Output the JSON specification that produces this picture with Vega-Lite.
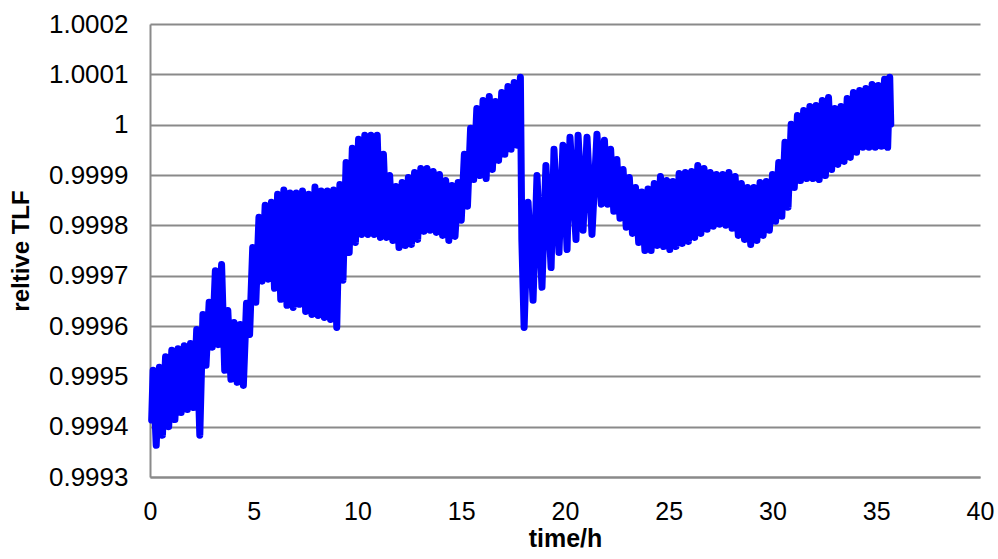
{
  "$schema": "https://vega.github.io/schema/vega-lite/v6.json",
  "width": 830,
  "height": 453,
  "autosize": {"type": "none"},
  "padding": {"left": 150, "top": 24, "right": 18, "bottom": 82},
  "background": "white",
  "config": {"view": {"stroke": null}, "font": "Liberation Sans"},
  "data": {"values": [
    {"t":0.08,"y":0.999413},{"t":0.15,"y":0.999512},{"t":0.30,"y":0.999363},{"t":0.45,"y":0.999518},{"t":0.60,"y":0.999383},
    {"t":0.75,"y":0.999539},{"t":0.90,"y":0.999400},{"t":1.05,"y":0.999552},{"t":1.20,"y":0.999414},{"t":1.35,"y":0.999555},
    {"t":1.50,"y":0.999428},{"t":1.65,"y":0.999561},{"t":1.80,"y":0.999434},{"t":1.95,"y":0.999565},{"t":2.10,"y":0.999438},
    {"t":2.25,"y":0.999593},{"t":2.40,"y":0.999383},{"t":2.55,"y":0.999623},{"t":2.70,"y":0.999522},{"t":2.85,"y":0.999647},
    {"t":3.00,"y":0.999558},{"t":3.15,"y":0.999710},{"t":3.30,"y":0.999563},{"t":3.45,"y":0.999722},{"t":3.60,"y":0.999512},
    {"t":3.75,"y":0.999631},{"t":3.90,"y":0.999494},{"t":4.05,"y":0.999607},{"t":4.20,"y":0.999488},{"t":4.35,"y":0.999603},
    {"t":4.50,"y":0.999482},{"t":4.65,"y":0.999645},{"t":4.80,"y":0.999583},{"t":4.95,"y":0.999756},{"t":5.10,"y":0.999647},
    {"t":5.25,"y":0.999816},{"t":5.40,"y":0.999689},{"t":5.55,"y":0.999840},{"t":5.70,"y":0.999693},{"t":5.85,"y":0.999846},
    {"t":6.00,"y":0.999675},{"t":6.15,"y":0.999862},{"t":6.30,"y":0.999653},{"t":6.45,"y":0.999870},{"t":6.60,"y":0.999641},
    {"t":6.75,"y":0.999864},{"t":6.90,"y":0.999637},{"t":7.05,"y":0.999864},{"t":7.20,"y":0.999643},{"t":7.35,"y":0.999868},
    {"t":7.50,"y":0.999629},{"t":7.65,"y":0.999862},{"t":7.80,"y":0.999623},{"t":7.95,"y":0.999876},{"t":8.10,"y":0.999621},
    {"t":8.25,"y":0.999868},{"t":8.40,"y":0.999617},{"t":8.55,"y":0.999868},{"t":8.70,"y":0.999613},{"t":8.85,"y":0.999870},
    {"t":9.00,"y":0.999597},{"t":9.15,"y":0.999881},{"t":9.30,"y":0.999691},{"t":9.45,"y":0.999925},{"t":9.60,"y":0.999746},
    {"t":9.75,"y":0.999953},{"t":9.90,"y":0.999766},{"t":10.05,"y":0.999971},{"t":10.20,"y":0.999782},{"t":10.35,"y":0.999979},
    {"t":10.50,"y":0.999782},{"t":10.65,"y":0.999979},{"t":10.80,"y":0.999782},{"t":10.95,"y":0.999979},{"t":11.10,"y":0.999776},
    {"t":11.25,"y":0.999941},{"t":11.40,"y":0.999776},{"t":11.55,"y":0.999899},{"t":11.70,"y":0.999770},{"t":11.85,"y":0.999877},
    {"t":12.00,"y":0.999756},{"t":12.15,"y":0.999885},{"t":12.30,"y":0.999760},{"t":12.45,"y":0.999895},{"t":12.60,"y":0.999762},
    {"t":12.75,"y":0.999905},{"t":12.90,"y":0.999772},{"t":13.05,"y":0.999913},{"t":13.20,"y":0.999788},{"t":13.35,"y":0.999913},
    {"t":13.50,"y":0.999790},{"t":13.65,"y":0.999907},{"t":13.80,"y":0.999786},{"t":13.95,"y":0.999901},{"t":14.10,"y":0.999780},
    {"t":14.25,"y":0.999889},{"t":14.40,"y":0.999770},{"t":14.55,"y":0.999879},{"t":14.70,"y":0.999778},{"t":14.85,"y":0.999885},
    {"t":15.00,"y":0.999810},{"t":15.15,"y":0.999941},{"t":15.30,"y":0.999838},{"t":15.45,"y":0.999993},{"t":15.60,"y":0.999891},
    {"t":15.75,"y":1.000032},{"t":15.90,"y":0.999899},{"t":16.05,"y":1.000048},{"t":16.20,"y":0.999893},{"t":16.35,"y":1.000056},
    {"t":16.50,"y":0.999911},{"t":16.65,"y":1.000046},{"t":16.80,"y":0.999929},{"t":16.95,"y":1.000064},{"t":17.10,"y":0.999941},
    {"t":17.25,"y":1.000076},{"t":17.40,"y":0.999951},{"t":17.55,"y":1.000084},{"t":17.70,"y":0.999959},{"t":17.85,"y":1.000094},
    {"t":17.92,"y":0.999771},{"t":18.03,"y":0.999597},{"t":18.22,"y":0.999846},{"t":18.46,"y":0.999651},{"t":18.65,"y":0.999899},
    {"t":18.89,"y":0.999677},{"t":19.08,"y":0.999919},{"t":19.33,"y":0.999716},{"t":19.47,"y":0.999951},{"t":19.71,"y":0.999746},
    {"t":19.90,"y":0.999959},{"t":20.10,"y":0.999752},{"t":20.24,"y":0.999975},{"t":20.53,"y":0.999772},{"t":20.63,"y":0.999979},
    {"t":20.87,"y":0.999790},{"t":21.06,"y":0.999975},{"t":21.30,"y":0.999782},{"t":21.54,"y":0.999981},{"t":21.75,"y":0.999842},
    {"t":21.90,"y":0.999969},{"t":22.05,"y":0.999842},{"t":22.20,"y":0.999951},{"t":22.35,"y":0.999828},{"t":22.50,"y":0.999931},
    {"t":22.65,"y":0.999814},{"t":22.80,"y":0.999911},{"t":22.95,"y":0.999796},{"t":23.10,"y":0.999895},{"t":23.25,"y":0.999784},
    {"t":23.40,"y":0.999875},{"t":23.55,"y":0.999766},{"t":23.70,"y":0.999866},{"t":23.85,"y":0.999750},{"t":24.00,"y":0.999872},
    {"t":24.15,"y":0.999750},{"t":24.30,"y":0.999883},{"t":24.45,"y":0.999760},{"t":24.60,"y":0.999897},{"t":24.75,"y":0.999758},
    {"t":24.90,"y":0.999889},{"t":25.05,"y":0.999752},{"t":25.20,"y":0.999887},{"t":25.35,"y":0.999758},{"t":25.50,"y":0.999903},
    {"t":25.65,"y":0.999764},{"t":25.80,"y":0.999905},{"t":25.95,"y":0.999768},{"t":26.10,"y":0.999907},{"t":26.25,"y":0.999776},
    {"t":26.40,"y":0.999919},{"t":26.55,"y":0.999784},{"t":26.70,"y":0.999913},{"t":26.85,"y":0.999792},{"t":27.00,"y":0.999905},
    {"t":27.15,"y":0.999798},{"t":27.30,"y":0.999901},{"t":27.45,"y":0.999802},{"t":27.60,"y":0.999901},{"t":27.75,"y":0.999800},
    {"t":27.90,"y":0.999905},{"t":28.05,"y":0.999794},{"t":28.20,"y":0.999897},{"t":28.35,"y":0.999780},{"t":28.50,"y":0.999883},
    {"t":28.65,"y":0.999772},{"t":28.80,"y":0.999875},{"t":28.95,"y":0.999762},{"t":29.10,"y":0.999875},{"t":29.25,"y":0.999770},
    {"t":29.40,"y":0.999885},{"t":29.55,"y":0.999780},{"t":29.70,"y":0.999887},{"t":29.85,"y":0.999790},{"t":30.00,"y":0.999901},
    {"t":30.15,"y":0.999808},{"t":30.30,"y":0.999925},{"t":30.45,"y":0.999818},{"t":30.60,"y":0.999965},{"t":30.75,"y":0.999836},
    {"t":30.90,"y":1.000001},{"t":31.05,"y":0.999875},{"t":31.20,"y":1.000018},{"t":31.35,"y":0.999889},{"t":31.50,"y":1.000028},
    {"t":31.65,"y":0.999893},{"t":31.80,"y":1.000036},{"t":31.95,"y":0.999893},{"t":32.10,"y":1.000038},{"t":32.25,"y":0.999891},
    {"t":32.40,"y":1.000048},{"t":32.55,"y":0.999899},{"t":32.70,"y":1.000054},{"t":32.85,"y":0.999911},{"t":33.00,"y":1.000032},
    {"t":33.15,"y":0.999921},{"t":33.30,"y":1.000036},{"t":33.45,"y":0.999927},{"t":33.60,"y":1.000052},{"t":33.75,"y":0.999935},
    {"t":33.90,"y":1.000064},{"t":34.05,"y":0.999945},{"t":34.20,"y":1.000068},{"t":34.35,"y":0.999955},{"t":34.50,"y":1.000072},
    {"t":34.65,"y":0.999955},{"t":34.80,"y":1.000080},{"t":34.95,"y":0.999955},{"t":35.10,"y":1.000078},{"t":35.25,"y":0.999957},
    {"t":35.40,"y":1.000090},{"t":35.55,"y":0.999955},{"t":35.65,"y":1.000094},{"t":35.70,"y":1.000001}
  ]},
  "mark": {"type": "line", "color": "#0000ff", "strokeWidth": 7, "strokeCap": "round", "strokeJoin": "round"},
  "encoding": {
    "x": {
      "field": "t", "type": "quantitative",
      "scale": {"domain": [0, 40], "nice": false},
      "axis": {
        "title": "time/h",
        "values": [0, 5, 10, 15, 20, 25, 30, 35, 40],
        "grid": false, "ticks": false,
        "domainColor": "#8a8a8a", "domainWidth": 2,
        "labelFont": "Liberation Sans", "labelFontSize": 25, "labelColor": "#000000", "labelPadding": 22,
        "labelFlush": false,
        "titleFont": "Liberation Sans", "titleFontSize": 25, "titleFontWeight": "bold", "titleColor": "#000000", "titlePadding": 2
      }
    },
    "y": {
      "field": "y", "type": "quantitative",
      "scale": {"domain": [0.9993, 1.0002], "nice": false, "zero": false},
      "axis": {
        "title": "reltive TLF",
        "values": [0.9993, 0.9994, 0.9995, 0.9996, 0.9997, 0.9998, 0.9999, 1.0, 1.0001, 1.0002],
        "format": ".4~f",
        "grid": true, "gridColor": "#8a8a8a", "gridWidth": 2,
        "ticks": false,
        "domainColor": "#8a8a8a", "domainWidth": 2,
        "labelFont": "Liberation Sans", "labelFontSize": 26, "labelColor": "#000000", "labelPadding": 22,
        "labelFlush": false,
        "titleFont": "Liberation Sans", "titleFontSize": 24, "titleFontWeight": "bold", "titleColor": "#000000", "titlePadding": 15
      }
    }
  }
}
